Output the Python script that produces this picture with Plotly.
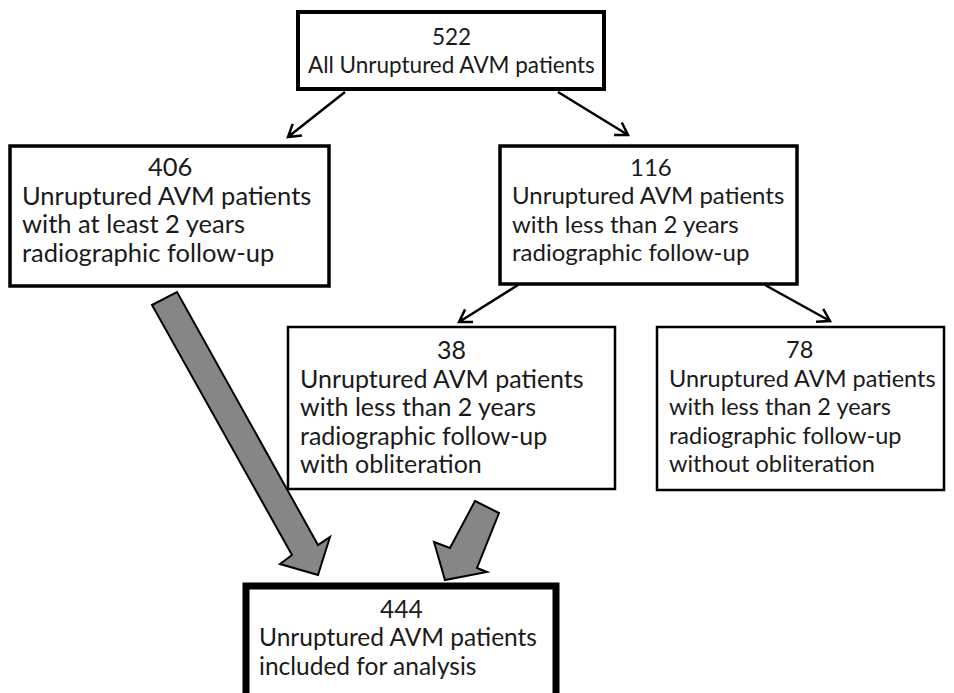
import plotly.graph_objects as go
import math

# ---- data ----
counts = ["522", "406", "116", "38", "78", "444"]
descriptions = [
    ["All Unruptured AVM patients"],
    ["Unruptured AVM patients", "with at least 2 years", "radiographic follow-up"],
    ["Unruptured AVM patients", "with less than 2 years", "radiographic follow-up"],
    ["Unruptured AVM patients", "with less than 2 years", "radiographic follow-up", "with obliteration"],
    ["Unruptured AVM patients", "with less than 2 years", "radiographic follow-up", "without obliteration"],
    ["Unruptured AVM patients", "included for analysis"],
]

# ---- layout geometry (pixels) ----
W, H = 954, 693
boxes = [  # x0, y0, x1, y1, border width, number x, number y, text x (left) or None, font size
    (298, 12, 604, 89, 4, 451, 36, None, 22.5),
    (10, 146, 329, 286, 3.5, 170, 166, 20, 25.5),
    (500, 146, 797, 284, 3.5, 651, 166, 510, 24),
    (288, 327, 615, 489, 2.5, 451, 349, 298, 25),
    (657, 327, 944, 490, 2.5, 799, 349, 667, 23.5),
    (246, 586, 556, 710, 7, 401, 608, 257, 24.5),
]
line_gap = 28.5
FONT = "Lato"
TXT = "#1a1a1a"

shapes = []
annotations = []

for (x0, y0, x1, y1, lw, nx, ny, tx, fs), num, desc in zip(boxes, counts, descriptions):
    shapes.append(dict(type="rect", x0=x0, y0=y0, x1=x1, y1=y1,
                       line=dict(color="black", width=lw), fillcolor="white",
                       xref="x", yref="y", layer="below"))
    annotations.append(dict(x=nx, y=ny, text=num, showarrow=False, xanchor="center",
                            yanchor="middle", font=dict(family=FONT, size=fs, color=TXT)))
    for i, line in enumerate(desc):
        yy = ny + (i + 1) * line_gap
        if tx is None:
            annotations.append(dict(x=nx, y=yy, text=line, showarrow=False, xanchor="center",
                                    yanchor="middle", font=dict(family=FONT, size=fs, color=TXT)))
        else:
            annotations.append(dict(x=tx, y=yy, text=line, showarrow=False, xanchor="left",
                                    yanchor="middle", font=dict(family=FONT, size=fs, color=TXT)))

# thin connector arrows
thin = [((345, 92), (288, 137)), ((558, 92), (628, 135)),
        ((518, 285), (459, 322)), ((765, 285), (830, 321))]
for (xa, ya), (xb, yb) in thin:
    ang = math.atan2(yb - ya, xb - xa)
    L = 14
    spread = math.radians(32)
    h1 = (xb - L * math.cos(ang - spread), yb - L * math.sin(ang - spread))
    h2 = (xb - L * math.cos(ang + spread), yb - L * math.sin(ang + spread))
    path = (f"M {xa},{ya} L {xb},{yb} M {h1[0]:.1f},{h1[1]:.1f} L {xb},{yb} "
            f"L {h2[0]:.1f},{h2[1]:.1f}")
    shapes.append(dict(type="path", path=path, line=dict(color="black", width=2.5),
                       xref="x", yref="y"))

# big gray block arrows
big = [
    [(152, 305), (177, 292), (318, 545), (330, 537), (318, 575), (280, 564), (292, 555)],
    [(475, 501), (499, 513), (477, 568), (487, 572), (445, 580), (434, 542), (450, 548)],
]
for poly in big:
    path = "M " + " L ".join(f"{x},{y}" for x, y in poly) + " Z"
    shapes.append(dict(type="path", path=path, line=dict(color="black", width=2),
                       fillcolor="#868686", xref="x", yref="y"))

fig = go.Figure()
fig.update_layout(
    width=W, height=H, margin=dict(l=0, r=0, t=0, b=0),
    paper_bgcolor="white", plot_bgcolor="white",
    xaxis=dict(range=[0, W], visible=False, fixedrange=True),
    yaxis=dict(range=[H, 0], visible=False, fixedrange=True),
    shapes=shapes, annotations=annotations, showlegend=False,
)
fig.write_html("out.html", config={"displayModeBar": False},
               post_script="document.body.style.margin='0';document.body.style.overflow='hidden';")
